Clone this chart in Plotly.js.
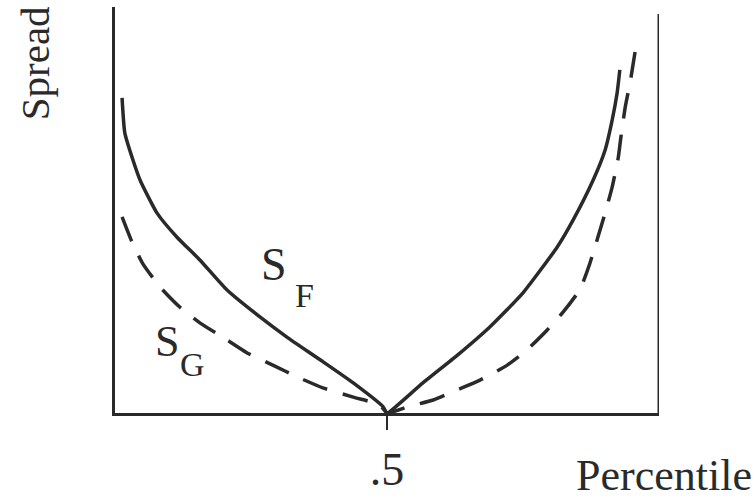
<!DOCTYPE html>
<html>
<head>
<meta charset="utf-8">
<script src="https://cdn.plot.ly/plotly-3.0.1.min.js"></script>
<style>html,body{margin:0;padding:0;background:#fff;}#chart{width:755px;height:499px;}</style>
</head>
<body>
<div id="chart"></div>
<script>
// Percentile (x) and spread (y) for S_F (solid) and S_G (dashed)
const sfX = [0.013,0.018,0.033,0.046,0.077,0.114,0.156,0.206,0.267,0.316,0.377,0.438,0.493,0.5,0.52,0.566,0.629,0.689,0.750,0.813,0.842,0.879,0.901,0.914,0.923,0.928];
const sfY = [0.776,0.690,0.623,0.574,0.493,0.433,0.377,0.303,0.236,0.187,0.131,0.074,0.015,0.0,0.02,0.074,0.142,0.212,0.296,0.409,0.475,0.574,0.648,0.722,0.788,0.845];
const sgX = [0.013,0.031,0.051,0.083,0.119,0.156,0.206,0.243,0.290,0.335,0.382,0.438,0.487,0.5,0.537,0.585,0.629,0.671,0.721,0.757,0.794,0.824,0.855,0.873,0.901,0.914,0.925,0.930,0.938,0.947,0.956];
const sgY = [0.483,0.422,0.368,0.310,0.261,0.222,0.180,0.148,0.118,0.089,0.062,0.039,0.020,0.0,0.015,0.032,0.057,0.081,0.118,0.155,0.204,0.249,0.305,0.369,0.493,0.557,0.628,0.680,0.754,0.815,0.889];
const tickVals = [0.5];
const tickText = ['.5'];

const ink = '#2a2a2a';
const serif = 'Liberation Serif, Times New Roman, serif';

const data = [
  {x: sfX, y: sfY, mode: 'lines', line: {color: ink, width: 3.5, shape: 'spline', smoothing: 0.5}, hoverinfo: 'skip'},
  {x: sgX, y: sgY, mode: 'lines', line: {color: ink, width: 3.5, dash: '26px,16px', shape: 'spline', smoothing: 0.5}, hoverinfo: 'skip'}
];

const layout = {
  width: 755, height: 499,
  margin: {l: 115, r: 96, t: 7, b: 86},
  paper_bgcolor: '#fff', plot_bgcolor: '#fff',
  showlegend: false,
  font: {family: serif, color: ink},
  xaxis: {
    range: [0, 1], showgrid: false, zeroline: false,
    showline: true, linecolor: ink, linewidth: 3,
    ticks: 'outside', ticklen: 14, tickwidth: 2, tickcolor: ink,
    tickvals: tickVals, ticktext: tickText,
    tickfont: {family: serif, size: 46, color: ink},
    fixedrange: true
  },
  yaxis: {
    range: [0, 1], showgrid: false, zeroline: false,
    showline: true, linecolor: ink, linewidth: 3,
    showticklabels: false, ticks: '',
    fixedrange: true
  },
  shapes: [
    {type: 'line', xref: 'x', yref: 'y', x0: 1, x1: 1, y0: 0, y1: 0.983, line: {color: ink, width: 3}}
  ],
  annotations: [
    {text: 'S', xref: 'x', yref: 'y', x: 0.2925, y: 0.365, showarrow: false, font: {family: serif, size: 46, color: ink}},
    {text: 'F', xref: 'x', yref: 'y', x: 0.348, y: 0.29, showarrow: false, font: {family: serif, size: 34, color: ink}},
    {text: 'S', xref: 'x', yref: 'y', x: 0.0955, y: 0.175, showarrow: false, font: {family: serif, size: 44, color: ink}},
    {text: 'G', xref: 'x', yref: 'y', x: 0.142, y: 0.12, showarrow: false, font: {family: serif, size: 34, color: ink}},
    {text: 'Percentile', xref: 'paper', yref: 'paper', x: 1.174, y: -0.155, xanchor: 'right', yanchor: 'middle', showarrow: false, font: {family: serif, size: 44, color: ink}},
    {text: 'Spread', xref: 'paper', yref: 'paper', x: -0.148, y: 1.008, xanchor: 'center', yanchor: 'top', textangle: -90, showarrow: false, font: {family: serif, size: 41, color: ink}}
  ]
};

Plotly.newPlot('chart', data, layout, {displayModeBar: false, staticPlot: true});
</script>
</body>
</html>
